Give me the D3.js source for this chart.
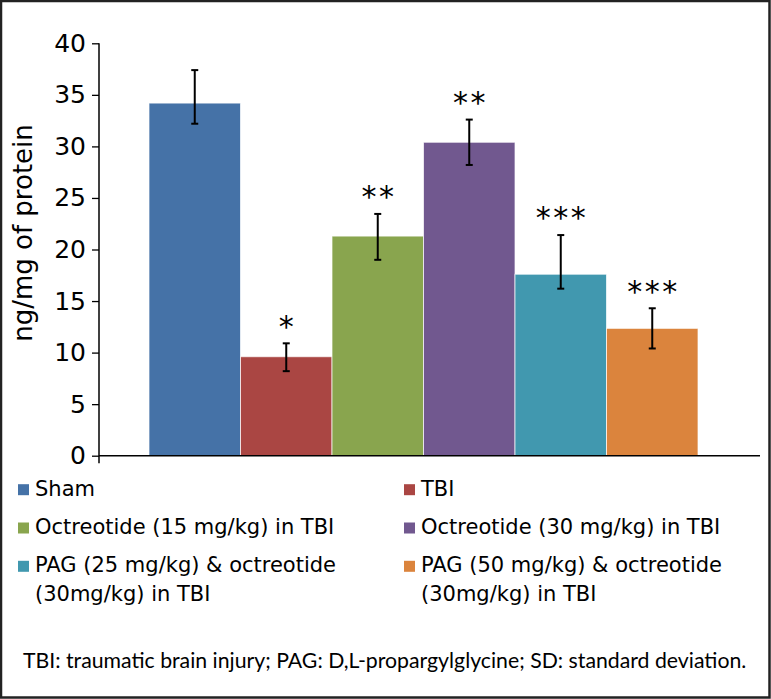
<!DOCTYPE html>
<html>
<head>
<meta charset="utf-8">
<script src="https://cdn.jsdelivr.net/npm/d3@7"></script>
<style>
  html, body { margin: 0; padding: 0; background: #fff; }
  svg { display: block; }
</style>
</head>
<body>
<svg id="chart" width="771" height="699"></svg>
<script>
// ---- Data ----
const groups = ["Sham", "TBI", "Octreotide (15 mg/kg) in TBI", "Octreotide (30 mg/kg) in TBI",
                "PAG (25 mg/kg) & octreotide (30mg/kg) in TBI", "PAG (50 mg/kg) & octreotide (30mg/kg) in TBI"];
const legendLines = [["Sham"], ["TBI"], ["Octreotide (15 mg/kg) in TBI"], ["Octreotide (30 mg/kg) in TBI"],
                     ["PAG (25 mg/kg) & octreotide", "(30mg/kg) in TBI"], ["PAG (50 mg/kg) & octreotide", "(30mg/kg) in TBI"]];
const values   = [34.2, 9.6, 21.3, 30.4, 17.6, 12.35];
const errHigh  = [37.4, 10.9, 23.45, 32.6, 21.4, 14.3];
const errLow   = [32.2, 8.2, 19.0, 28.2, 16.2, 10.4];
const stars    = ["", "*", "**", "**", "***", "***"];
const colors   = ["#4572A7", "#AA4643", "#89A54E", "#71588F", "#4198AF", "#DB843D"];
const yTicks   = [0, 5, 10, 15, 20, 25, 30, 35, 40];
const yTitle   = "ng/mg of protein";
const footnote = "TBI: traumatic brain injury; PAG: D,L-propargylglycine; SD: standard deviation.";

// ---- Layout ----
const svg = d3.select("#chart");
const axisX = 99, axisRight = 760;
const y = d3.scaleLinear().domain([0, 40]).range([455.7, 43.3]);
const x = d3.scaleBand().domain(groups).range([149, 698]).paddingInner(0).paddingOuter(0);

// Frame
svg.append("rect").attr("x", 1).attr("y", 1).attr("width", 768.5).attr("height", 696.5)
  .attr("fill", "#fff").attr("stroke", "#222").attr("stroke-width", 2.5);

// Bars
svg.append("g").selectAll("rect").data(groups).join("rect")
  .attr("x", d => x(d)).attr("width", x.bandwidth())
  .attr("y", (d, i) => y(values[i])).attr("height", (d, i) => y(0) - y(values[i]))
  .attr("fill", (d, i) => colors[i])
  .attr("stroke", "rgba(255,255,255,0.7)").attr("stroke-width", 1);

// Axes
const yAxis = d3.axisLeft(y).tickValues(yTicks).tickSize(7).tickPadding(6).tickFormat(d3.format("d"));
const gy = svg.append("g").attr("transform", `translate(${axisX},0)`).call(yAxis);
gy.select(".domain").remove();
gy.selectAll(".tick line").attr("stroke", "#000").attr("stroke-width", 1.3);
gy.selectAll(".tick text").attr("font-family", "DejaVu Sans").attr("font-size", 25).attr("fill", "#000");
svg.append("line").attr("x1", axisX).attr("x2", axisX).attr("y1", y(40)).attr("y2", y(0) + 7.5)
  .attr("stroke", "#000").attr("stroke-width", 1.5);
svg.append("line").attr("x1", axisX).attr("x2", axisRight).attr("y1", y(0)).attr("y2", y(0))
  .attr("stroke", "#000").attr("stroke-width", 1.5);

// Error bars
const eb = svg.append("g").attr("stroke", "#000").attr("stroke-width", 2);
groups.forEach((g, i) => {
  const cx = x(g) + x.bandwidth() / 2;
  eb.append("line").attr("x1", cx).attr("x2", cx).attr("y1", y(errHigh[i])).attr("y2", y(errLow[i]));
  eb.append("line").attr("x1", cx - 3.5).attr("x2", cx + 3.5).attr("y1", y(errHigh[i])).attr("y2", y(errHigh[i]));
  eb.append("line").attr("x1", cx - 3.5).attr("x2", cx + 3.5).attr("y1", y(errLow[i])).attr("y2", y(errLow[i]));
});

// Significance stars
groups.forEach((g, i) => {
  if (!stars[i]) return;
  const cx = x(g) + x.bandwidth() / 2;
  const t = svg.append("text").attr("x", cx).attr("y", 0)
    .attr("text-anchor", "middle").attr("font-family", "DejaVu Sans").attr("font-size", 30)
    .attr("letter-spacing", 2.5).attr("fill", "#000").text(stars[i]);
  const bb = t.node().getBBox();
  // center glyphs 22px above error bar top
  const targetCy = y(errHigh[i]) - 22;
  t.attr("y", targetCy - (bb.y + bb.height * 0.36)).attr("x", cx + 1.25);
});

// Y title
svg.append("text").attr("transform", `translate(32,233) rotate(-90)`)
  .attr("text-anchor", "middle").attr("font-family", "DejaVu Sans").attr("font-size", 26)
  .attr("fill", "#000").text(yTitle);

// Legend
const legCols = [18, 404], legRows = [495.7, 534, 572.3], lineGap = 28.4;
const lg = svg.append("g");
groups.forEach((g, i) => {
  const col = i % 2, row = Math.floor(i / 2);
  const lx = legCols[col], ly = legRows[row];
  lg.append("rect").attr("x", lx).attr("y", ly - 11.5).attr("width", 11).attr("height", 11).attr("fill", colors[i]);
  legendLines[i].forEach((ln, k) => {
    lg.append("text").attr("x", lx + 17).attr("y", ly + k * lineGap)
      .attr("font-family", "DejaVu Sans").attr("font-size", 21).attr("fill", "#000").text(ln);
  });
});

// Footnote
const fn = svg.append("text").attr("x", 23).attr("y", 668).attr("font-family", "Lato")
  .attr("font-size", 20).attr("fill", "#000").text(footnote);
const w = fn.node().getComputedTextLength();
fn.attr("font-size", 20 * 724 / w);
</script>
</body>
</html>
